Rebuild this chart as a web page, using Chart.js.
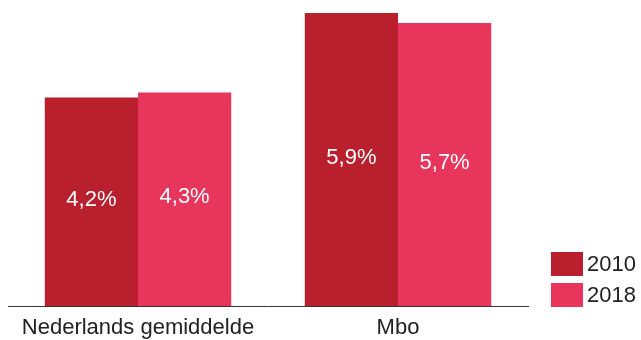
<!doctype html>
<html lang="nl">
<head>
  <meta charset="utf-8">
  <title>Mbo vs gemiddelde</title>
  <script src="https://cdn.jsdelivr.net/npm/chart.js"></script>
  <style>
    html, body { margin: 0; padding: 0; background: #fff; }
    #wrap { width: 641px; height: 340px; }
  </style>
</head>
<body>
  <div id="wrap"><canvas id="chart"></canvas></div>
  <script>
    // data
    var categories = ['Nederlands gemiddelde', 'Mbo'];
    var years = ['2010', '2018'];
    var values2010 = [4.2, 5.9];
    var values2018 = [4.3, 5.7];
    var colors = ['#B91F2C', '#E8355C'];

    var FONT = '"Liberation Sans", Arial, sans-serif';

    // white value labels in the middle of each bar
    var barLabels = {
      id: 'barLabels',
      afterDatasetsDraw: function(chart) {
        var ctx = chart.ctx;
        ctx.save();
        ctx.font = '22px ' + FONT;
        ctx.fillStyle = '#ffffff';
        ctx.textAlign = 'center';
        ctx.textBaseline = 'middle';
        chart.data.datasets.forEach(function(ds, i) {
          chart.getDatasetMeta(i).data.forEach(function(bar, j) {
            var txt = ds.data[j].toFixed(1).replace('.', ',') + '%';
            ctx.fillText(txt, bar.x, (bar.y + bar.base) / 2 - 2);
          });
        });
        ctx.restore();
      }
    };

    // legend stacked at the bottom right
    var sideLegend = {
      id: 'sideLegend',
      afterDraw: function(chart) {
        var ctx = chart.ctx;
        ctx.save();
        ctx.font = '22px ' + FONT;
        ctx.textBaseline = 'middle';
        ctx.textAlign = 'left';
        chart.data.datasets.forEach(function(ds, i) {
          var y = 252 + i * 31;
          ctx.fillStyle = ds.backgroundColor;
          ctx.fillRect(551, y, 32, 24);
          ctx.fillStyle = '#222';
          ctx.fillText(ds.label, 587, y + 13);
        });
        ctx.restore();
      }
    };

    new Chart(document.getElementById('chart'), {
      type: 'bar',
      data: {
        labels: categories,
        datasets: [
          { label: years[0], data: values2010, backgroundColor: colors[0] },
          { label: years[1], data: values2018, backgroundColor: colors[1] }
        ]
      },
      options: {
        responsive: true,
        maintainAspectRatio: false,
        animation: false,
        barPercentage: 1,
        categoryPercentage: 0.717,
        layout: { padding: { left: 8, right: 113, top: 8, bottom: 0 } },
        plugins: {
          legend: { display: false },
          tooltip: { enabled: false }
        },
        scales: {
          x: {
            grid: { display: false, drawTicks: false },
            border: { display: true, color: '#333', width: 1 },
            ticks: { color: '#222', font: { family: FONT, size: 22, lineHeight: 1 }, padding: 11, maxRotation: 0 },
            afterFit: function(scale) { scale.height = 34; }
          },
          y: {
            display: false,
            min: 0,
            max: 6
          }
        }
      },
      plugins: [barLabels, sideLegend]
    });
  </script>
</body>
</html>
